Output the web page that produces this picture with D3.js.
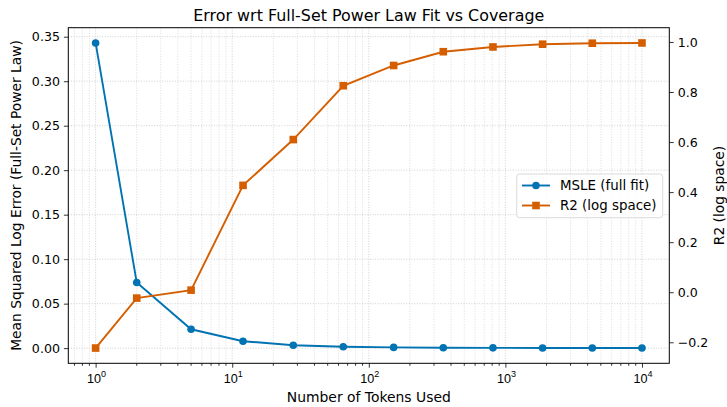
<!DOCTYPE html>
<html>
<head>
<meta charset="utf-8">
<script src="https://cdn.jsdelivr.net/npm/d3@7"></script>
<style>
html,body{margin:0;padding:0;background:#fff;}
svg{display:block;font-family:"DejaVu Sans",sans-serif;}
</style>
</head>
<body>
<svg id="chart" width="727" height="407"></svg>
<script>
const tokens = [1, 2, 5, 12, 28, 65, 152, 351, 811, 1873, 4328, 10000];
const msle = [0.343, 0.0737, 0.0212, 0.0078, 0.0033, 0.0015, 0.0008, 0.0005, 0.0003, 0.0002, 0.0001, 0.0001];
const r2 = [-0.223, -0.0235, 0.0084, 0.427, 0.610, 0.825, 0.906, 0.961, 0.980, 0.991, 0.995, 0.996];
const leftTicks = [0.00, 0.05, 0.10, 0.15, 0.20, 0.25, 0.30, 0.35];
const rightTicks = [-0.2, 0.0, 0.2, 0.4, 0.6, 0.8, 1.0];
const xTicks = [1, 10, 100, 1000, 10000];
const seriesNames = ["MSLE (full fit)", "R2 (log space)"];
const colors = ["#0173b2", "#d55e00"];

const svg = d3.select("#chart");
const L = 68.3, R = 669.3, T = 27.7, B = 363.3;

function padExtent(arr, frac) {
  const e = d3.extent(arr); const d = (e[1] - e[0]) * frac;
  return [e[0] - d, e[1] + d];
}
const lx = d3.extent(tokens).map(Math.log10);
const dx = (lx[1] - lx[0]) * 0.05;
const x = d3.scaleLog().domain([Math.pow(10, lx[0] - dx), Math.pow(10, lx[1] + dx)]).range([L, R]);
const yL = d3.scaleLinear().domain(padExtent(msle, 0.05)).range([B, T]);
const yR = d3.scaleLinear().domain(padExtent(r2, 0.05)).range([B, T]);

// grid
const minorTicks = [];
for (let e = -1; e <= 4; e++) for (let m = 2; m <= 9; m++) {
  const v = m * Math.pow(10, e);
  if (v >= x.domain()[0] && v <= x.domain()[1]) minorTicks.push(v);
}
const grid = svg.append("g");
grid.selectAll(".vmin").data(minorTicks).join("line")
  .attr("x1", d => x(d)).attr("x2", d => x(d)).attr("y1", T).attr("y2", B)
  .attr("stroke", "#d4d4d4").attr("stroke-width", 0.8).attr("stroke-dasharray", "1,1.6");
grid.selectAll(".vmaj").data(xTicks).join("line")
  .attr("x1", d => x(d)).attr("x2", d => x(d)).attr("y1", T).attr("y2", B)
  .attr("stroke", "#c4c4c4").attr("stroke-width", 0.8).attr("stroke-dasharray", "1,1.6");
grid.selectAll(".hmaj").data(leftTicks).join("line")
  .attr("x1", L).attr("x2", R).attr("y1", d => yL(d)).attr("y2", d => yL(d))
  .attr("stroke", "#c4c4c4").attr("stroke-width", 0.8).attr("stroke-dasharray", "1,1.6");

// axes
const fmtSup = d => Math.round(Math.log10(d));
const xAxis = svg.append("g").attr("transform", `translate(0,${B})`)
  .call(d3.axisBottom(x).tickValues(xTicks).tickSize(4.4).tickFormat(""));
xAxis.selectAll(".minor").data(minorTicks).join("line").attr("class", "minor")
  .attr("x1", d => x(d)).attr("x2", d => x(d)).attr("y1", 0).attr("y2", 2.5)
  .attr("stroke", "#000").attr("stroke-width", 0.8);
xAxis.selectAll(".lab").data(xTicks).join("text").attr("class", "lab")
  .attr("x", d => x(d) + 1).attr("y", 19.5).attr("text-anchor", "middle")
  .attr("font-size", 12.6).attr("fill", "#000")
  .each(function (d) {
    const t = d3.select(this);
    t.append("tspan").text("10");
    t.append("tspan").attr("dy", -5.5).attr("font-size", 9).text(fmtSup(d));
  });

const yAxisL = svg.append("g").attr("transform", `translate(${L},0)`)
  .call(d3.axisLeft(yL).tickValues(leftTicks).tickSize(4.4).tickPadding(4).tickFormat(d3.format(".2f")));
const yAxisR = svg.append("g").attr("transform", `translate(${R},0)`)
  .call(d3.axisRight(yR).tickValues(rightTicks).tickSize(4.4).tickPadding(4)
    .tickFormat(d => d3.format(".1f")(d).replace("-", "\u2212")));
[xAxis, yAxisL, yAxisR].forEach(g => {
  g.select(".domain").remove();
  g.selectAll(".tick line").attr("stroke", "#000").attr("stroke-width", 0.8);
  g.selectAll(".tick text").attr("font-size", 12.6).attr("fill", "#000").attr("font-family", "DejaVu Sans");
});

// frame
svg.append("rect").attr("x", L).attr("y", T).attr("width", R - L).attr("height", B - T)
  .attr("fill", "none").attr("stroke", "#000").attr("stroke-width", 1);

// series
const line1 = d3.line().x((d, i) => x(tokens[i])).y(d => yL(d));
const line2 = d3.line().x((d, i) => x(tokens[i])).y(d => yR(d));
svg.append("path").datum(msle).attr("d", line1).attr("fill", "none").attr("stroke", colors[0]).attr("stroke-width", 1.9);
svg.append("g").selectAll("circle").data(msle).join("circle")
  .attr("cx", (d, i) => x(tokens[i])).attr("cy", d => yL(d)).attr("r", 3.8).attr("fill", colors[0]);
svg.append("path").datum(r2).attr("d", line2).attr("fill", "none").attr("stroke", colors[1]).attr("stroke-width", 1.9);
svg.append("g").selectAll("rect").data(r2).join("rect")
  .attr("x", (d, i) => x(tokens[i]) - 3.8).attr("y", d => yR(d) - 3.8).attr("width", 7.6).attr("height", 7.6)
  .attr("fill", colors[1]);

// legend
const lg = svg.append("g");
lg.append("rect").attr("x", 516.7).attr("y", 174).attr("width", 146).attr("height", 43.7).attr("rx", 3)
  .attr("fill", "#fff").attr("fill-opacity", 0.8).attr("stroke", "#d0d0d0").attr("stroke-width", 0.8);
seriesNames.forEach((n, i) => {
  const yy = 185.5 + i * 20;
  lg.append("line").attr("x1", 522).attr("x2", 550).attr("y1", yy).attr("y2", yy)
    .attr("stroke", colors[i]).attr("stroke-width", 1.9);
  if (i === 0) lg.append("circle").attr("cx", 536).attr("cy", yy).attr("r", 3.8).attr("fill", colors[i]);
  else lg.append("rect").attr("x", 536 - 3.8).attr("y", yy - 3.8).attr("width", 7.6).attr("height", 7.6).attr("fill", colors[i]);
  lg.append("text").attr("x", 560).attr("y", yy + 4.8).attr("font-size", 13.4).attr("fill", "#000").text(n);
});

// labels
svg.append("text").attr("x", (L + R) / 2).attr("y", 21).attr("text-anchor", "middle")
  .attr("font-size", 15.9).attr("fill", "#000").text("Error wrt Full-Set Power Law Fit vs Coverage");
svg.append("text").attr("x", (L + R) / 2).attr("y", 401.5).attr("text-anchor", "middle")
  .attr("font-size", 13.9).attr("fill", "#000").text("Number of Tokens Used");
svg.append("text").attr("transform", `translate(20.5,${(T + B) / 2}) rotate(-90)`).attr("text-anchor", "middle")
  .attr("font-size", 13.8).attr("fill", "#000").text("Mean Squared Log Error (Full-Set Power Law)");
svg.append("text").attr("transform", `translate(724,${(T + B) / 2}) rotate(-90)`).attr("text-anchor", "middle")
  .attr("font-size", 13.8).attr("fill", "#000").text("R2 (log space)");
</script>
</body>
</html>
